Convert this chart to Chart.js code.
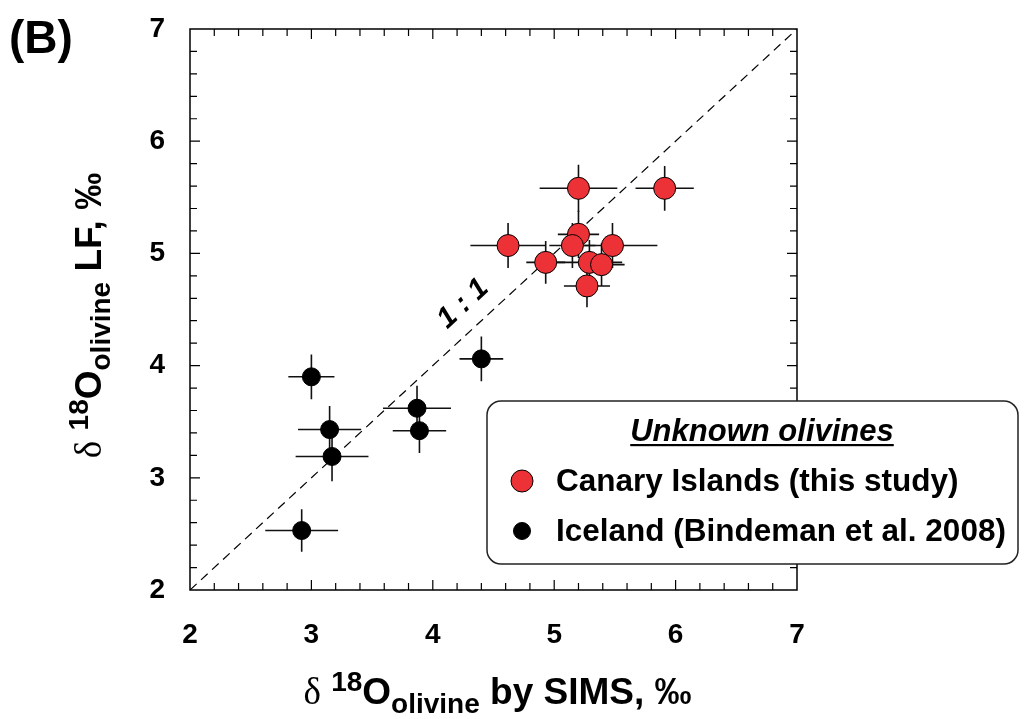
<!DOCTYPE html>
<html lang="en">
<head>
<meta charset="UTF-8">
<title>δ18O olivine: laser fluorination vs SIMS</title>
<script src="https://cdn.jsdelivr.net/npm/chart.js@4"></script>
<style>
  body { margin: 0; background: #fff; }
  #wrap { width: 1026px; height: 719px; }
</style>
</head>
<body>
<div id="wrap"><canvas id="chart" width="1026" height="719"></canvas></div>
<script>
// Canary Islands olivines (this study)
const canaryX    = [5.20, 5.91, 5.20, 4.62, 5.15, 5.48, 4.93, 5.29, 5.39, 5.27];
const canaryY    = [5.58, 5.58, 5.17, 5.07, 5.07, 5.07, 4.92, 4.92, 4.90, 4.71];
const canaryXErr = [0.32, 0.24, 0.17, 0.31, 0.19, 0.37, 0.16, 0.27, 0.19, 0.19];
const canaryYErr = [0.21, 0.20, 0.21, 0.20, 0.20, 0.20, 0.19, 0.20, 0.19, 0.19];

// Iceland olivines (Bindeman et al. 2008)
const icelandX    = [3.00, 3.15, 3.17, 3.87, 3.89, 4.40, 2.92];
const icelandY    = [3.90, 3.43, 3.19, 3.62, 3.42, 4.06, 2.53];
const icelandXErr = [0.19, 0.26, 0.30, 0.28, 0.22, 0.18, 0.30];
const icelandYErr = [0.20, 0.21, 0.22, 0.20, 0.20, 0.20, 0.19];

// axes: both in per mil, 2..7, labelled every 1, minor ticks every 0.2
const axisMin = 2, axisMax = 7;
const majorStep = 1, minorStep = 0.2;
const oneToOne = [axisMin, axisMax];

const SANS = '"Liberation Sans", Arial, Helvetica, sans-serif';
const SERIF = '"Liberation Serif", "Times New Roman", serif';
const RED = '#ec3237';

function pts(xs, ys) { return xs.map((x, i) => ({ x: x, y: ys[i] })); }

// draws a run of text pieces with their own fonts / baseline shifts, centred on cx
function drawRich(ctx, parts, cx, by) {
  let w = 0;
  parts.forEach(p => { ctx.font = p.font; p.w = ctx.measureText(p.text).width; w += p.w; });
  let x = cx - w / 2;
  ctx.textAlign = 'left';
  ctx.textBaseline = 'alphabetic';
  parts.forEach(p => { ctx.font = p.font; ctx.fillText(p.text, x, by + (p.dy || 0)); x += p.w; });
}

function titleParts(tail) {
  return [
    { text: 'δ', font: '37px ' + SERIF },
    { text: ' ', font: 'bold 37px ' + SANS },
    { text: '18', font: 'bold 28px ' + SANS, dy: -13 },
    { text: 'O', font: 'bold 37px ' + SANS },
    { text: 'olivine', font: 'bold 28px ' + SANS, dy: 9 },
    { text: tail, font: 'bold 37px ' + SANS }
  ];
}

// error bars (±1 sd) behind the symbols
const errorBars = {
  id: 'errorBars',
  beforeDatasetsDraw(chart) {
    const { ctx, scales: { x, y } } = chart;
    ctx.save();
    ctx.strokeStyle = '#111';
    ctx.lineWidth = 1.6;
    chart.data.datasets.forEach(ds => {
      if (!ds.xErr) return;
      ds.data.forEach((p, i) => {
        const px = x.getPixelForValue(p.x), py = y.getPixelForValue(p.y);
        ctx.beginPath();
        ctx.moveTo(x.getPixelForValue(p.x - ds.xErr[i]), py);
        ctx.lineTo(x.getPixelForValue(p.x + ds.xErr[i]), py);
        ctx.moveTo(px, y.getPixelForValue(p.y - ds.yErr[i]));
        ctx.lineTo(px, y.getPixelForValue(p.y + ds.yErr[i]));
        ctx.stroke();
      });
    });
    ctx.restore();
  }
};

// box round the plot with inward ticks on all four sides
const frameTicks = {
  id: 'frameTicks',
  beforeDatasetsDraw(chart) {
    const { ctx, chartArea: a, scales: { x, y } } = chart;
    ctx.save();
    ctx.strokeStyle = '#000';
    ctx.lineWidth = 1.5;
    ctx.strokeRect(a.left, a.top, a.right - a.left, a.bottom - a.top);
    ctx.lineWidth = 1.2;
    const n = Math.round((axisMax - axisMin) / minorStep);
    const per = Math.round(majorStep / minorStep);
    ctx.beginPath();
    for (let i = 1; i < n; i++) {
      const v = axisMin + i * minorStep;
      const len = i % per === 0 ? 10 : 7;
      const px = x.getPixelForValue(v), py = y.getPixelForValue(v);
      ctx.moveTo(px, a.bottom); ctx.lineTo(px, a.bottom - len);
      ctx.moveTo(px, a.top); ctx.lineTo(px, a.top + len);
      ctx.moveTo(a.left, py); ctx.lineTo(a.left + len, py);
      ctx.moveTo(a.right, py); ctx.lineTo(a.right - len, py);
    }
    ctx.stroke();
    ctx.restore();
  }
};

// "1 : 1" along the dashed line, axis titles and panel letter
const annotations = {
  id: 'annotations',
  afterDatasetsDraw(chart) {
    const { ctx, chartArea: a, scales: { x, y } } = chart;
    ctx.save();
    ctx.fillStyle = '#000';

    const ang = Math.atan2(y.getPixelForValue(axisMax) - y.getPixelForValue(axisMin),
                           x.getPixelForValue(axisMax) - x.getPixelForValue(axisMin));
    ctx.save();
    ctx.translate(x.getPixelForValue(4.25), y.getPixelForValue(4.55));
    ctx.rotate(ang);
    ctx.font = 'italic bold 29px ' + SANS;
    ctx.textAlign = 'center';
    ctx.textBaseline = 'middle';
    ctx.fillText('1 : 1', 0, 0);
    ctx.restore();

    drawRich(ctx, titleParts(' by SIMS, ‰'), (a.left + a.right) / 2 + 4, 704);

    ctx.save();
    ctx.translate(101, (a.top + a.bottom) / 2 + 6);
    ctx.rotate(-Math.PI / 2);
    drawRich(ctx, titleParts(' LF, ‰'), 0, 0);
    ctx.restore();

    ctx.font = 'bold 46px ' + SANS;
    ctx.textAlign = 'left';
    ctx.textBaseline = 'alphabetic';
    ctx.fillText('(B)', 9, 53);
    ctx.restore();
  }
};

// framed legend with underlined heading
const legendBox = {
  id: 'legendBox',
  afterDraw(chart) {
    const { ctx } = chart;
    const bx = 487, by = 401, bw = 531, bh = 163, r = 14;
    ctx.save();
    ctx.beginPath();
    ctx.roundRect(bx, by, bw, bh, r);
    ctx.fillStyle = '#fff';
    ctx.fill();
    ctx.strokeStyle = '#222';
    ctx.lineWidth = 1.5;
    ctx.stroke();

    ctx.fillStyle = '#000';
    ctx.font = 'italic bold 31px ' + SANS;
    ctx.textAlign = 'center';
    ctx.textBaseline = 'alphabetic';
    const head = 'Unknown olivines';
    const hx = 762, hy = 441;
    ctx.fillText(head, hx, hy);
    const hw = ctx.measureText(head).width;
    ctx.fillRect(hx - hw / 2, hy + 3, hw, 2.2);

    const rows = chart.data.datasets.filter(ds => ds.xErr);
    const rowY = [481, 531];
    ctx.font = 'bold 31.5px ' + SANS;
    ctx.textAlign = 'left';
    ctx.textBaseline = 'middle';
    rows.forEach((ds, i) => {
      ctx.beginPath();
      ctx.arc(522, rowY[i], ds.legendRadius, 0, Math.PI * 2);
      ctx.fillStyle = ds.backgroundColor;
      ctx.fill();
      ctx.lineWidth = 1;
      ctx.strokeStyle = '#000';
      ctx.stroke();
      ctx.fillStyle = '#000';
      ctx.fillText(ds.label, 556, rowY[i] + 1);
    });
    ctx.restore();
  }
};

const tickFont = { family: SANS, size: 28, weight: 'bold' };

new Chart(document.getElementById('chart'), {
  type: 'scatter',
  data: {
    datasets: [
      {
        label: 'Canary Islands (this study)',
        data: pts(canaryX, canaryY),
        xErr: canaryXErr, yErr: canaryYErr,
        backgroundColor: RED, borderColor: '#000', borderWidth: 1,
        pointRadius: 11, pointHoverRadius: 11, legendRadius: 11
      },
      {
        label: 'Iceland (Bindeman et al. 2008)',
        data: pts(icelandX, icelandY),
        xErr: icelandXErr, yErr: icelandYErr,
        backgroundColor: '#000', borderColor: '#000', borderWidth: 1,
        pointRadius: 9, pointHoverRadius: 9, legendRadius: 8.5
      },
      {
        label: '1 : 1',
        type: 'line',
        data: pts(oneToOne, oneToOne),
        borderColor: '#000', borderWidth: 1.2, borderDash: [9, 6],
        pointRadius: 0, fill: false
      }
    ]
  },
  options: {
    responsive: false,
    animation: false,
    layout: { padding: { top: 29, right: 229, left: 0, bottom: 0 } },
    plugins: { legend: { display: false }, tooltip: { enabled: false } },
    scales: {
      x: {
        type: 'linear', min: axisMin, max: axisMax,
        afterFit: s => { s.height = 129; s.paddingLeft = 0; s.paddingRight = 0; },
        grid: { display: false, drawTicks: false },
        border: { display: false },
        ticks: { stepSize: majorStep, padding: 28, color: '#000', font: tickFont }
      },
      y: {
        type: 'linear', min: axisMin, max: axisMax,
        // tick padding would otherwise push the plot top down
        afterFit: s => { s.width = 190; s.paddingTop = 0; s.paddingBottom = 0; },
        grid: { display: false, drawTicks: false },
        border: { display: false },
        ticks: { stepSize: majorStep, padding: 25, color: '#000', font: tickFont }
      }
    }
  },
  plugins: [errorBars, frameTicks, annotations, legendBox]
});
</script>
</body>
</html>
